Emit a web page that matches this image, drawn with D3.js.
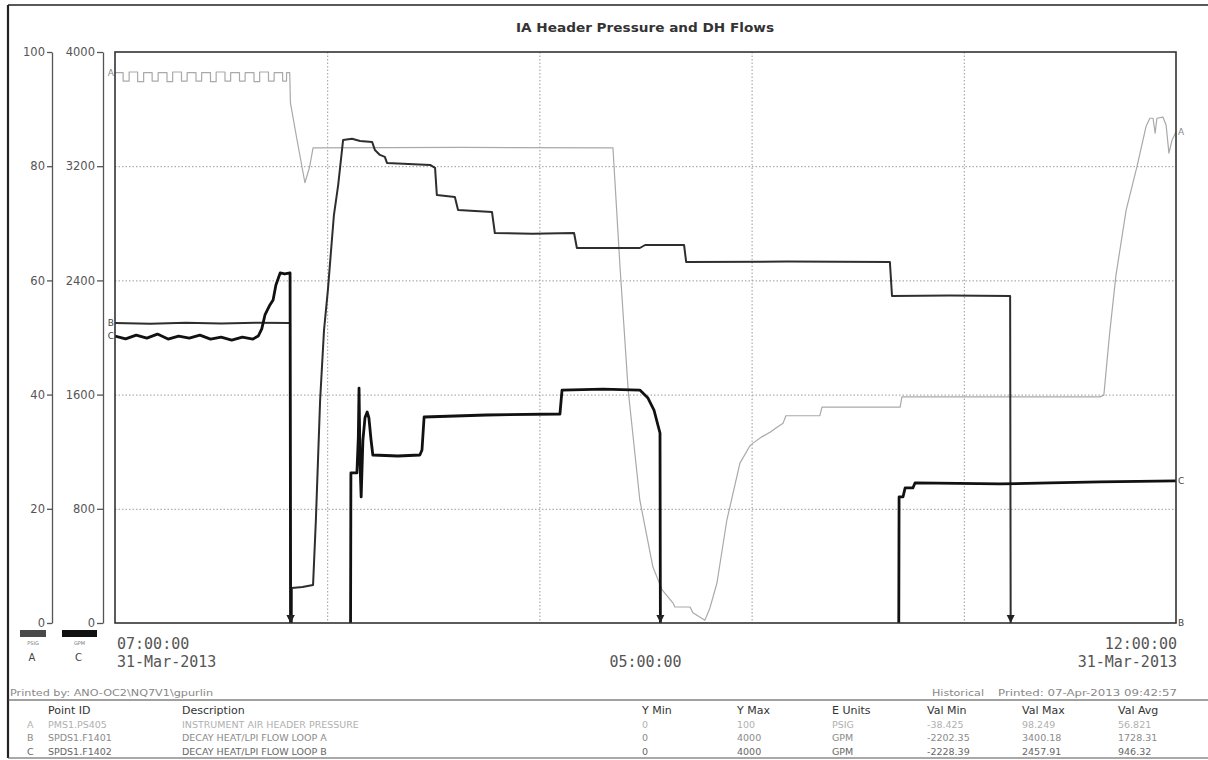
<!DOCTYPE html>
<html>
<head>
<meta charset="utf-8">
<script src="https://cdn.jsdelivr.net/npm/d3@7"></script>
<style>
  html, body { margin: 0; padding: 0; background: #fff; }
  svg { display: block; }
</style>
</head>
<body>
<svg id="chart" width="1208" height="760"></svg>
<script>
// ---------------- data ----------------
const chartTitle = "IA Header Pressure and DH Flows";
const startTimeLabel = ["07:00:00", "31-Mar-2013"];
const spanLabel = "05:00:00";
const endTimeLabel = ["12:00:00", "31-Mar-2013"];
const pressureTicks = [0, 20, 40, 60, 80, 100];
const flowTicks = [0, 800, 1600, 2400, 3200, 4000];
const hourTicks = [0, 60, 120, 180, 240, 300];          // minutes after 07:00:00

// A: instrument air header pressure [minutes after 07:00, PSIG]
const seriesA = [
  [0,96.4],[2.3,96.4],[2.3,94.9],[4.0,94.9],[4.0,96.5],[6.4,96.5],[6.4,94.8],[8.1,94.8],
  [8.1,96.4],[10.5,96.4],[10.5,94.9],[12.2,94.9],[12.2,96.4],[14.7,96.4],[14.7,94.8],[16.3,94.8],
  [16.3,96.5],[18.8,96.5],[18.8,94.9],[20.4,94.9],[20.4,96.4],[22.9,96.4],[22.9,94.9],[24.5,94.9],
  [24.5,96.4],[27.0,96.4],[27.0,94.8],[28.6,94.8],[28.6,96.5],[31.1,96.5],[31.1,94.9],[32.7,94.9],
  [32.7,96.4],[35.2,96.4],[35.2,94.9],[36.8,94.9],[36.8,96.4],[39.3,96.4],[39.3,94.8],[40.9,94.8],
  [40.9,96.5],[43.4,96.5],[43.4,94.9],[45.0,94.9],[45.0,96.4],[47.4,96.4],[47.4,94.9],[48.5,94.9],
  [48.5,96.4],[49.4,96.4],
  [49.6,91.1],[51.5,84.5],[53.7,77.1],[55.0,79.8],[56.0,83.2],[98.0,83.3],[140.8,83.2],
  [142.8,62.3],[145.1,40.8],[148.4,21.5],[152.1,9.8],[154.7,5.8],[157.8,3.5],[158.3,2.8],
  [162.6,2.8],[163.4,1.8],[166.8,0.5],[168.2,2.6],[170.2,7.0],[173.0,18.0],[176.7,28.0],
  [179.5,31.0],[180.4,31.5],[182.9,32.6],[185.2,33.4],[187.2,34.3],[188.9,35.0],[189.7,36.3],
  [199.3,36.3],[199.9,37.8],[222.0,37.8],[222.5,39.6],[278.5,39.6],[279.6,39.9],[281.2,50.5],
  [283.0,60.8],[285.9,72.3],[289.0,80.0],[291.5,86.9],[292.6,88.4],[293.5,88.4],[294.1,85.8],
  [294.6,88.4],[296.3,88.6],[297.2,87.2],[298.0,82.3],[298.9,84.6],[300,86.0]
];

// B: decay heat / LPI flow loop A [minutes after 07:00, GPM]
const seriesB = [
  [0,2101],[10,2096],[20,2103],[30,2098],[40,2104],[49.5,2101],[49.8,-2202],[49.9,-2202],
  [50.0,245],[53,252],[56.0,266],[56.8,722],[58.0,1562],[59.1,2052],[60.2,2333],[61.1,2613],
  [61.9,2858],[63.1,3068],[64.5,3384],[67,3392],[69.3,3377],[72.7,3370],[73.5,3313],[74.9,3279],
  [76.3,3265],[76.9,3223],[83,3215],[89.1,3209],[90.5,3188],[91.0,2998],[96.1,2984],[97.0,2893],
  [106.6,2879],[107.4,2732],[118,2727],[129.8,2732],[130.6,2627],[148.4,2627],[149.9,2648],
  [160.9,2648],[161.5,2529],[190,2532],[219.1,2529],[219.7,2291],[236,2294],[253.1,2291],
  [253.4,-2202],[300,-2202]
];

// C: decay heat / LPI flow loop B [minutes after 07:00, GPM]
const seriesC = [
  [0,2010],[3,1990],[6,2017],[9,1996],[12,2024],[15,1989],[18,2010],[21,1996],[24,2017],
  [27,1989],[30,2003],[33,1982],[36,2003],[39,1989],[40.5,2010],[41.5,2060],[42.4,2158],
  [43.8,2228],[44.7,2263],[45.5,2368],[46.7,2452],[48,2445],[49.5,2452],[49.8,-2228],
  [66.4,-2228],[66.7,1051],[68.4,1051],[68.8,1300],[69.0,1646],[69.3,1100],[69.6,883],
  [70.1,1282],[70.7,1440],[71.3,1478],[71.8,1436],[72.4,1282],[72.9,1177],[80,1170],
  [86.2,1177],[86.8,1212],[87.4,1443],[105,1457],[125.8,1464],[126.4,1632],[138,1639],
  [148.4,1632],[150.7,1576],[152.4,1492],[153.5,1387],[154.1,1331],[154.4,-2228],
  [221.4,-2228],[221.7,883],[222.8,883],[223.4,946],[225.6,946],[226.2,981],[250.2,974],
  [264.4,981],[278.5,988],[300,995]
];

// point summary table
const pointKeys = ["A", "B", "C"];
const pointIds = ["PMS1.PS405", "SPDS1.F1401", "SPDS1.F1402"];
const descriptions = ["INSTRUMENT AIR HEADER PRESSURE", "DECAY HEAT/LPI FLOW LOOP A", "DECAY HEAT/LPI FLOW LOOP B"];
const yMins = ["0", "0", "0"];
const yMaxs = ["100", "4000", "4000"];
const engUnits = ["PSIG", "GPM", "GPM"];
const valMins = ["-38.425", "-2202.35", "-2228.39"];
const valMaxs = ["98.249", "3400.18", "2457.91"];
const valAvgs = ["56.821", "1728.31", "946.32"];
const tableHeaders = ["Point ID", "Description", "Y Min", "Y Max", "E Units", "Val Min", "Val Max", "Val Avg"];
const printedBy = "Printed by: ANO-OC2\\NQ7V1\\gpurlin";
const printedInfo = ["Historical", "Printed: 07-Apr-2013 09:42:57"];

// ---------------- layout ----------------
const svg = d3.select("#chart");
const W = 1208, H = 760;
const plot = { left: 115, right: 1176, top: 52, bottom: 623 };
const font = "'DejaVu Sans', Verdana, sans-serif";
const mono = "'DejaVu Sans Mono', monospace";

const colors = { A: "#a9a9a9", B: "#2e2e2e", C: "#111" };
const widths = { A: 1.2, B: 2.0, C: 2.8 };

const x = d3.scaleLinear().domain([0, 300]).range([plot.left, plot.right]);
const yP = d3.scaleLinear().domain([0, 100]).range([plot.bottom, plot.top]);
const yF = d3.scaleLinear().domain([0, 4000]).range([plot.bottom, plot.top]);

svg.append("rect").attr("width", W).attr("height", H).attr("fill", "#fff");

// page frame
const frame = svg.append("g").attr("stroke", "#222").attr("fill", "none");
frame.append("line").attr("x1", 8).attr("x2", W).attr("y1", 5).attr("y2", 5).attr("stroke-width", 1.5);
frame.append("line").attr("x1", 8).attr("x2", 8).attr("y1", 5).attr("y2", 758).attr("stroke-width", 2.2);
frame.append("line").attr("x1", 8).attr("x2", W).attr("y1", 700).attr("y2", 700).attr("stroke-width", 1.2).attr("stroke", "#444");
frame.append("line").attr("x1", 8).attr("x2", W).attr("y1", 758).attr("y2", 758).attr("stroke-width", 1.2).attr("stroke", "#555");

// title
svg.append("text")
  .attr("x", 645).attr("y", 32)
  .attr("text-anchor", "middle")
  .attr("font-family", font).attr("font-weight", "bold").attr("font-size", 11.5)
  .attr("fill", "#333")
  .attr("textLength", 258).attr("lengthAdjust", "spacingAndGlyphs")
  .text(chartTitle);

// grid
const grid = svg.append("g").attr("stroke", "#9a9a9a").attr("stroke-width", 1).attr("stroke-dasharray", "1.5,2");
grid.selectAll("line.h").data(flowTicks.slice(1, -1)).join("line")
  .attr("x1", plot.left).attr("x2", plot.right)
  .attr("y1", d => yF(d) + 0.5).attr("y2", d => yF(d) + 0.5);
grid.selectAll("line.v").data(hourTicks.slice(1, -1)).join("line")
  .attr("y1", plot.top).attr("y2", plot.bottom)
  .attr("x1", d => x(d) + 0.5).attr("x2", d => x(d) + 0.5);

// y axes
function styleAxis(g) {
  g.selectAll("path, line").attr("stroke", "#555").attr("stroke-width", 1.3);
  g.selectAll("text").attr("font-family", font).attr("font-size", 11.5).attr("fill", "#555");
}
svg.append("g").attr("transform", "translate(52,0)")
  .call(d3.axisLeft(yP).tickValues(pressureTicks).tickFormat(d3.format("d"))
    .tickSize(5).tickSizeOuter(0).tickPadding(2))
  .call(styleAxis);
svg.append("g").attr("transform", "translate(103,0)")
  .call(d3.axisLeft(yF).tickValues(flowTicks).tickFormat(d3.format("d"))
    .tickSize(6).tickSizeOuter(0).tickPadding(2))
  .call(styleAxis);

// axis unit swatches
const swatches = [
  { key: "A", unit: engUnits[0], x0: 20, x1: 46, fill: "#4a4a4a" },
  { key: "C", unit: engUnits[2], x0: 62, x1: 97, fill: "#111" }
];
const sw = svg.append("g");
sw.selectAll("rect").data(swatches).join("rect")
  .attr("x", d => d.x0).attr("y", 630).attr("width", d => d.x1 - d.x0).attr("height", 7)
  .attr("fill", d => d.fill);
sw.selectAll("text.u").data(swatches).join("text").attr("class", "u")
  .attr("x", d => (d.x0 + d.x1) / 2).attr("y", 645).attr("text-anchor", "middle")
  .attr("font-family", font).attr("font-size", 5).attr("fill", "#777").text(d => d.unit);
sw.selectAll("text.k").data(swatches).join("text").attr("class", "k")
  .attr("x", d => (d.x0 + d.x1) / 2 - 1).attr("y", 661).attr("text-anchor", "middle")
  .attr("font-family", font).attr("font-size", 10).attr("fill", "#444").text(d => d.key);

// series
svg.append("clipPath").attr("id", "plotClip").append("rect")
  .attr("x", plot.left).attr("y", plot.top)
  .attr("width", plot.right - plot.left).attr("height", plot.bottom - plot.top);

const seriesList = [
  { key: "A", data: seriesA, y: yP },
  { key: "B", data: seriesB, y: yF },
  { key: "C", data: seriesC, y: yF }
];

const lines = svg.append("g").attr("clip-path", "url(#plotClip)");
seriesList.forEach(s => {
  lines.append("path")
    .datum(s.data)
    .attr("fill", "none")
    .attr("stroke", colors[s.key])
    .attr("stroke-width", widths[s.key])
    .attr("stroke-linejoin", "round")
    .attr("d", d3.line().x(d => x(d[0])).y(d => s.y(d[1])));
});

// off-scale markers where a trace leaves the bottom of its range
const arrows = svg.append("g");
seriesList.forEach(s => {
  const lo = s.y.domain()[0];
  for (let i = 1; i < s.data.length; i++) {
    const p = s.data[i - 1], q = s.data[i];
    if (p[1] >= lo && q[1] < lo) {
      const t = p[0] + (q[0] - p[0]) * (p[1] - lo) / (p[1] - q[1]);
      arrows.append("path")
        .attr("transform", `translate(${x(t)},${plot.bottom})`)
        .attr("d", "M-4,-8L4,-8L0,0Z")
        .attr("fill", s.key === "A" ? "#777" : "#222");
    }
  }
});

// trace tags at both ends
const clampY = v => Math.max(plot.top, Math.min(plot.bottom, v));
const tags = svg.append("g").attr("font-family", font).attr("font-size", 9);
seriesList.forEach(s => {
  const first = s.data[0], last = s.data[s.data.length - 1];
  tags.append("text").attr("x", plot.left - 1).attr("y", clampY(s.y(first[1]))).attr("dy", "0.35em")
    .attr("text-anchor", "end").attr("fill", s.key === "A" ? "#888" : "#444").text(s.key);
  tags.append("text").attr("x", plot.right + 2).attr("y", clampY(s.y(last[1]))).attr("dy", "0.35em")
    .attr("fill", s.key === "A" ? "#888" : "#444").text(s.key);
});

// plot frame
svg.append("rect")
  .attr("x", plot.left).attr("y", plot.top)
  .attr("width", plot.right - plot.left).attr("height", plot.bottom - plot.top)
  .attr("fill", "none").attr("stroke", "#333").attr("stroke-width", 1.6);

// time labels
const tl = svg.append("g").attr("font-family", mono).attr("font-size", 15).attr("fill", "#555");
tl.append("text").attr("x", x(hourTicks[0]) + 2).attr("y", 649).text(startTimeLabel[0]);
tl.append("text").attr("x", x(hourTicks[0]) + 2).attr("y", 667).text(startTimeLabel[1]);
tl.append("text").attr("x", x(150)).attr("y", 667).attr("text-anchor", "middle").text(spanLabel);
tl.append("text").attr("x", x(hourTicks[5]) + 1).attr("y", 649).attr("text-anchor", "end").text(endTimeLabel[0]);
tl.append("text").attr("x", x(hourTicks[5]) + 1).attr("y", 667).attr("text-anchor", "end").text(endTimeLabel[1]);

// print footer
const foot = svg.append("g").attr("font-family", font).attr("font-size", 8.5).attr("fill", "#888");
foot.append("text").attr("x", 10).attr("y", 696)
  .attr("textLength", 203).attr("lengthAdjust", "spacingAndGlyphs").text(printedBy);
foot.append("text").attr("x", 932).attr("y", 696)
  .attr("textLength", 52).attr("lengthAdjust", "spacingAndGlyphs").text(printedInfo[0]);
foot.append("text").attr("x", 998).attr("y", 696)
  .attr("textLength", 179).attr("lengthAdjust", "spacingAndGlyphs").text(printedInfo[1]);

// point table
const colX = [48, 182, 642, 737, 832, 927, 1022, 1118];
const table = svg.append("g").attr("font-family", font);
table.selectAll("text.h").data(tableHeaders).join("text").attr("class", "h")
  .attr("x", (d, i) => colX[i]).attr("y", 714)
  .attr("font-size", 11).attr("fill", "#333").text(d => d);

const rowY = [728, 741, 755];
const rowFill = ["#b0b0b0", "#8a8a8a", "#666"];
pointKeys.forEach((k, r) => {
  const cells = [pointIds[r], descriptions[r], yMins[r], yMaxs[r], engUnits[r], valMins[r], valMaxs[r], valAvgs[r]];
  const g = table.append("g").attr("font-size", 9.5).attr("fill", rowFill[r]);
  g.append("text").attr("x", 27).attr("y", rowY[r]).text(k);
  cells.forEach((c, i) => g.append("text").attr("x", colX[i]).attr("y", rowY[r]).text(c));
});
</script>
</body>
</html>
